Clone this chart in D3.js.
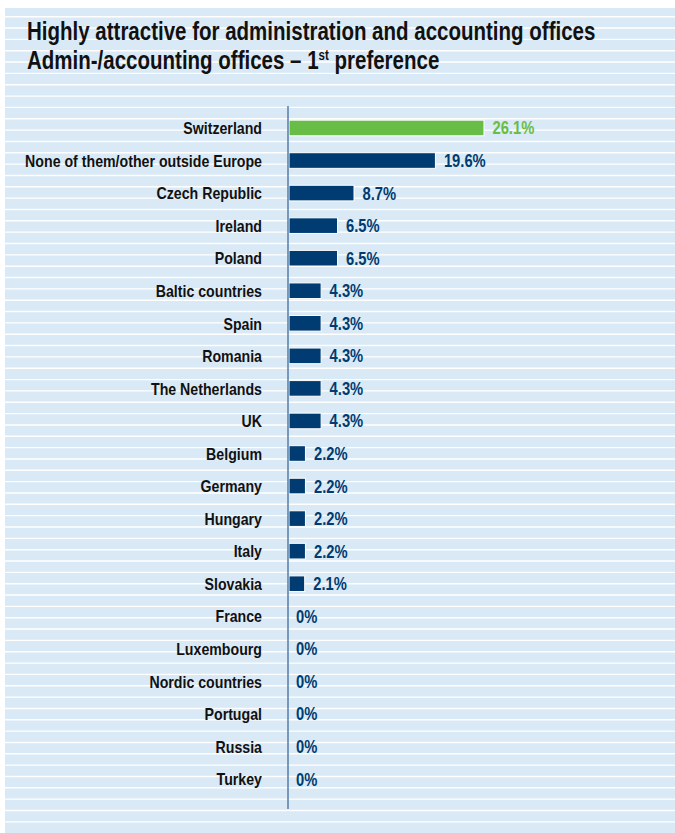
<!DOCTYPE html>
<html>
<head>
<meta charset="utf-8">
<script src="https://cdn.jsdelivr.net/npm/d3@7/dist/d3.min.js"></script>
<style>
  html, body { margin: 0; padding: 0; background: #ffffff; }
  svg { display: block; }
  text { font-family: "Liberation Sans", Arial, sans-serif; font-weight: bold; }
</style>
</head>
<body>
<svg id="chart" width="675" height="833"></svg>
<script>
// Survey results: preferred location for admin/accounting offices (1st preference, %)
const categories = [
  "Switzerland", "None of them/other outside Europe", "Czech Republic", "Ireland",
  "Poland", "Baltic countries", "Spain", "Romania", "The Netherlands", "UK",
  "Belgium", "Germany", "Hungary", "Italy", "Slovakia", "France", "Luxembourg",
  "Nordic countries", "Portugal", "Russia", "Turkey"
];
const values = [26.1, 19.6, 8.7, 6.5, 6.5, 4.3, 4.3, 4.3, 4.3, 4.3,
                2.2, 2.2, 2.2, 2.2, 2.1, 0, 0, 0, 0, 0, 0];
const valueLabels = ["26.1%", "19.6%", "8.7%", "6.5%", "6.5%", "4.3%", "4.3%", "4.3%",
                     "4.3%", "4.3%", "2.2%", "2.2%", "2.2%", "2.2%", "2.1%",
                     "0%", "0%", "0%", "0%", "0%", "0%"];
const highlighted = ["Switzerland"];

const titleLine1 = "Highly attractive for administration and accounting offices";
const titleLine2a = "Admin-/accounting offices – 1";
const titleLine2sup = "st";
const titleLine2b = " preference";

const data = categories.map((c, i) => ({ name: c, value: values[i], label: valueLabels[i] }));

const W = 675, H = 833;
const svg = d3.select("#chart");

const navy = "#003b71";
const green = "#67bd45";
const panelFill = "#d9e9f5";
// horizontal squeeze that turns the regular bold face into a condensed one
const narrow = 0.82;

// striped panel background
svg.append("rect")
  .attr("x", 5).attr("y", 8)
  .attr("width", W - 5).attr("height", H - 8)
  .attr("fill", panelFill);

const stripeStep = 11.34;
const stripes = d3.range(16.7, H, stripeStep);
svg.append("g")
  .selectAll("line")
  .data(stripes)
  .join("line")
  .attr("x1", 5).attr("x2", W)
  .attr("y1", d => d).attr("y2", d => d)
  .attr("stroke", "#ffffff")
  .attr("stroke-width", 1.4);

// titles
svg.append("text")
  .attr("transform", `translate(27,39.5) scale(${narrow},1)`)
  .attr("font-size", 25)
  .attr("fill", "#111111")
  .text(titleLine1);

const t2 = svg.append("text")
  .attr("transform", `translate(27,68.5) scale(${narrow},1)`)
  .attr("font-size", 25)
  .attr("fill", "#111111");
t2.append("tspan").text(titleLine2a);
t2.append("tspan").attr("font-size", 14).attr("dy", -9).text(titleLine2sup);
t2.append("tspan").attr("dy", 9).text(titleLine2b);

// scales
const x = d3.scaleLinear().domain([0, 30]).range([289, 289 + 30 * 7.47]);
const y = d3.scaleBand()
  .domain(categories)
  .range([111.7, 795.3])
  .paddingInner(0.52)
  .paddingOuter(0.26);

// bars
svg.append("g")
  .selectAll("rect")
  .data(data)
  .join("rect")
  .attr("x", x(0))
  .attr("y", d => y(d.name))
  .attr("width", d => x(d.value) - x(0))
  .attr("height", y.bandwidth())
  .attr("fill", d => highlighted.includes(d.name) ? green : navy)
  .attr("stroke", "#ffffff")
  .attr("stroke-width", 1);

// axis line
svg.append("line")
  .attr("x1", 288).attr("x2", 288)
  .attr("y1", 106).attr("y2", 809)
  .attr("stroke", "#5d84ad")
  .attr("stroke-width", 1.6);

// category labels
svg.append("g")
  .selectAll("text")
  .data(data)
  .join("text")
  .attr("transform", d => `translate(262,${y(d.name) + y.bandwidth() / 2}) scale(${narrow},1)`)
  .attr("dy", "0.36em")
  .attr("text-anchor", "end")
  .attr("font-size", 17.3)
  .attr("fill", "#111111")
  .text(d => d.name);

// value labels
svg.append("g")
  .selectAll("text")
  .data(data)
  .join("text")
  .attr("transform", d => `translate(${x(d.value) + (d.value > 0 ? 8.5 : 7)},${y(d.name) + y.bandwidth() / 2}) scale(${narrow},1)`)
  .attr("dy", "0.36em")
  .attr("font-size", 18)
  .attr("fill", d => highlighted.includes(d.name) ? green : navy)
  .text(d => d.label);
</script>
</body>
</html>
